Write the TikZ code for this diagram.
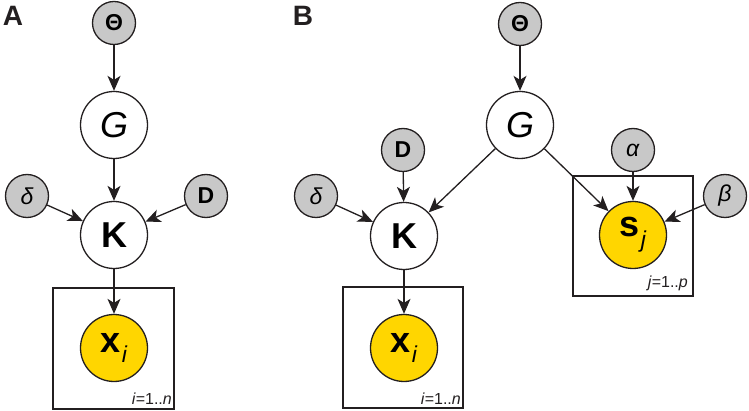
\documentclass[tikz,border=0pt]{standalone}
\usepackage{fontspec}
\setmainfont{Liberation Sans}
\usetikzlibrary{arrows.meta}
\definecolor{grayfill}{RGB}{200,200,200}
\definecolor{gold}{RGB}{255,214,0}
\definecolor{ink}{RGB}{35,31,32}
\newcommand{\subtxt}[1]{\hspace{1pt}\raisebox{-0.3em}{\fontsize{23}{24}\selectfont\itshape #1}}
\begin{document}
\begin{tikzpicture}[x=1pt,y=-1pt,
  bignode/.style={circle, draw=ink, line width=1.3pt, fill=white, minimum size=67pt, inner sep=0pt, font=\fontsize{36}{38}\selectfont},
  obsnode/.style={bignode, fill=gold},
  smallnode/.style={circle, draw=ink, line width=1.3pt, fill=grayfill, minimum size=43pt, inner sep=0pt, font=\fontsize{23}{25}\selectfont},
  platebox/.style={draw=ink, line width=1.3pt, inner sep=0pt},
  platelabel/.style={anchor=base east, inner sep=0pt, font=\fontsize{16}{18}\selectfont, text=ink},
  panellabel/.style={font=\fontsize{28}{30}\selectfont\bfseries, text=ink, inner sep=0pt},
  arr/.style={-{Stealth[length=15pt,width=13pt,inset=4pt]}, line width=1.3pt, draw=ink, fill=ink}
]
\useasboundingbox (0,0) rectangle (749,411);
% Panel labels
\node[panellabel] (labA) at (13,15.5) {A};
\node[panellabel] (labB) at (303,15.5) {B};

% Panel A
\node[platebox, minimum width=121pt, minimum height=121pt] (plateA) at (113.5,348.5) {};
\node[platelabel] (plateAlab) at (172,404) {\textit{i}=1..\textit{n}};
\node[smallnode] (thetaA) at (114,23) {\textbf{Θ}};
\node[bignode] (GA) at (114,125) {\textit{G}};
\node[bignode] (KA) at (114,235) {\textbf{K}};
\node[smallnode] (deltaA) at (27,196) {\textit{δ}};
\node[smallnode] (DA) at (206,196) {\textbf{D}};
\node[obsnode] (xA) at (114,348) {\textbf{x}\subtxt{i}};
\draw[arr] (thetaA) -- (GA);
\draw[arr] (GA) -- (KA);
\draw[arr] (deltaA) -- (KA);
\draw[arr] (DA) -- (KA);
\draw[arr] (KA) -- (xA);

% Panel B
\node[platebox, minimum width=120pt, minimum height=121pt] (plateB1) at (403,347.5) {};
\node[platelabel] (plateB1lab) at (461,404) {\textit{i}=1..\textit{n}};
\node[platebox, minimum width=120pt, minimum height=120pt] (plateB2) at (633,236) {};
\node[platelabel] (plateB2lab) at (688,288) {\textit{j}=1..\textit{p}};
\node[smallnode] (thetaB) at (520,24) {\textbf{Θ}};
\node[bignode] (GB) at (520,125) {\textit{G}};
\node[smallnode] (DB) at (403,150) {\textbf{D}};
\node[smallnode] (alphaB) at (633,150) {\textit{α}};
\node[smallnode] (deltaB) at (316,196) {\textit{δ}};
\node[smallnode] (betaB) at (725,196) {\textit{β}};
\node[bignode] (KB) at (404,236) {\textbf{K}};
\node[obsnode] (sB) at (633,235) {\textbf{s}\subtxt{j}};
\node[obsnode] (xB) at (404,348) {\textbf{x}\subtxt{i}};
\draw[arr] (thetaB) -- (GB);
\draw[arr] (GB) -- (KB);
\draw[arr] (GB) -- (sB);
\draw[arr] (DB) -- (KB);
\draw[arr] (deltaB) -- (KB);
\draw[arr] (alphaB) -- (sB);
\draw[arr] (betaB) -- (sB);
\draw[arr] (KB) -- (xB);
\end{tikzpicture}
\end{document}
